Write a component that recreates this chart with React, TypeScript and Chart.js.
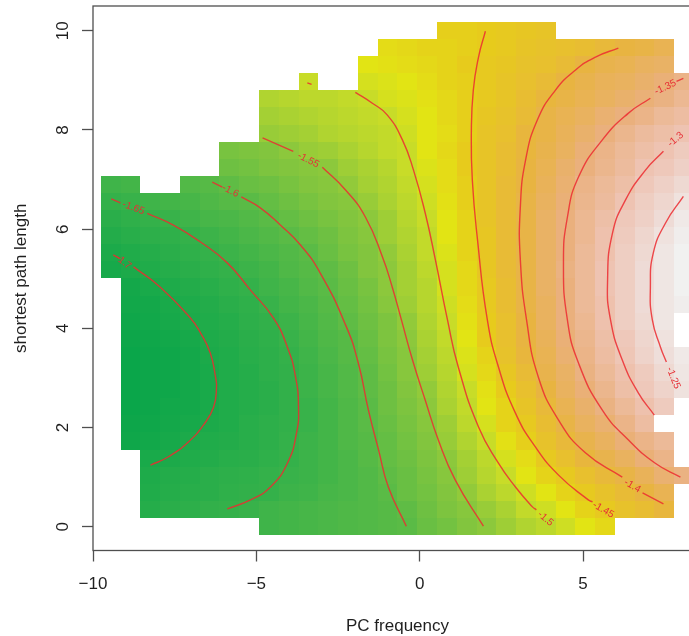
import React, { useEffect, useRef } from "react";
import { Chart, registerables } from "chart.js";

Chart.register(...registerables);

const N = null;

const xCenters = [-9.46, -8.855, -8.25, -7.645, -7.04, -6.43, -5.83, -5.22, -4.62, -4.01, -3.41, -2.8, -2.2, -1.59, -0.99, -0.38, 0.23, 0.83, 1.44, 2.04, 2.65, 3.25, 3.86, 4.46, 5.07, 5.67, 6.28, 6.88, 7.49, 8.1];
const yCenters = [0.0, 0.35, 0.69, 1.04, 1.38, 1.73, 2.07, 2.42, 2.76, 3.11, 3.45, 3.8, 4.14, 4.49, 4.83, 5.18, 5.52, 5.87, 6.21, 6.56, 6.9, 7.25, 7.59, 7.94, 8.28, 8.63, 8.97, 9.32, 9.66, 10.01];
const cellWidth = 0.6054;
const cellHeight = 0.3448;

// one list per row, bottom row first, one entry per column
const row00 = [N, N, N, N, N, N, N, N, -1.635, -1.63, -1.625, -1.62, -1.615, -1.61, -1.605, -1.6, -1.587, -1.573, -1.56, -1.548, -1.535, -1.52, -1.51, -1.495, -1.48, -1.465, N, N, N, N];
const row01 = [N, N, -1.68, -1.672, -1.665, -1.657, -1.649, -1.643, -1.637, -1.63, -1.625, -1.62, -1.614, -1.608, -1.603, -1.593, -1.58, -1.566, -1.554, -1.538, -1.523, -1.507, -1.493, -1.478, -1.461, -1.447, -1.432, -1.419, -1.405, N];
const row02 = [N, N, -1.69, -1.682, -1.675, -1.668, -1.662, -1.656, -1.648, -1.641, -1.634, -1.626, -1.618, -1.61, -1.601, -1.587, -1.573, -1.559, -1.543, -1.527, -1.511, -1.495, -1.478, -1.461, -1.443, -1.43, -1.417, -1.4, -1.387, N];
const row03 = [N, N, -1.695, -1.687, -1.68, -1.672, -1.665, -1.658, -1.652, -1.645, -1.638, -1.63, -1.622, -1.612, -1.597, -1.583, -1.57, -1.555, -1.537, -1.517, -1.498, -1.48, -1.462, -1.443, -1.427, -1.411, -1.397, -1.378, -1.362, -1.346];
const row04 = [N, N, -1.706, -1.699, -1.691, -1.684, -1.676, -1.668, -1.659, -1.651, -1.639, -1.628, -1.618, -1.607, -1.592, -1.579, -1.565, -1.549, -1.528, -1.508, -1.488, -1.468, -1.447, -1.427, -1.407, -1.389, -1.373, -1.354, -1.34, N];
const row05 = [N, -1.725, -1.718, -1.71, -1.7, -1.692, -1.683, -1.674, -1.664, -1.652, -1.642, -1.63, -1.617, -1.604, -1.589, -1.574, -1.559, -1.541, -1.52, -1.499, -1.477, -1.454, -1.43, -1.41, -1.391, -1.373, -1.354, -1.338, -1.324, N];
const row06 = [N, -1.73, -1.725, -1.717, -1.708, -1.698, -1.688, -1.677, -1.666, -1.654, -1.643, -1.63, -1.615, -1.602, -1.586, -1.57, -1.553, -1.533, -1.511, -1.489, -1.462, -1.445, -1.418, -1.395, -1.377, -1.359, -1.34, -1.317, N, N];
const row07 = [N, -1.733, -1.728, -1.721, -1.713, -1.703, -1.691, -1.68, -1.668, -1.655, -1.643, -1.629, -1.614, -1.6, -1.582, -1.565, -1.55, -1.527, -1.505, -1.481, -1.458, -1.433, -1.408, -1.385, -1.365, -1.347, -1.325, -1.303, -1.285, N];
const row08 = [N, -1.735, -1.73, -1.724, -1.716, -1.704, -1.692, -1.68, -1.668, -1.655, -1.641, -1.627, -1.612, -1.597, -1.58, -1.561, -1.543, -1.52, -1.499, -1.474, -1.45, -1.425, -1.399, -1.377, -1.354, -1.335, -1.312, -1.29, -1.268, -1.245];
const row09 = [N, -1.735, -1.73, -1.725, -1.716, -1.703, -1.692, -1.68, -1.667, -1.653, -1.638, -1.623, -1.61, -1.593, -1.575, -1.556, -1.537, -1.513, -1.492, -1.466, -1.442, -1.415, -1.39, -1.368, -1.345, -1.326, -1.305, -1.283, -1.258, -1.24];
const row10 = [N, -1.733, -1.728, -1.723, -1.713, -1.7, -1.688, -1.676, -1.664, -1.65, -1.636, -1.621, -1.606, -1.589, -1.571, -1.553, -1.53, -1.509, -1.484, -1.458, -1.432, -1.407, -1.383, -1.36, -1.338, -1.316, -1.294, -1.272, -1.248, -1.235];
const row11 = [N, -1.73, -1.725, -1.718, -1.708, -1.695, -1.683, -1.672, -1.659, -1.645, -1.632, -1.617, -1.603, -1.585, -1.567, -1.549, -1.525, -1.505, -1.479, -1.452, -1.426, -1.402, -1.379, -1.355, -1.333, -1.311, -1.288, -1.264, -1.245, N];
const row12 = [N, -1.726, -1.719, -1.711, -1.702, -1.689, -1.678, -1.666, -1.653, -1.639, -1.626, -1.612, -1.597, -1.58, -1.563, -1.543, -1.52, -1.5, -1.475, -1.45, -1.425, -1.4, -1.376, -1.352, -1.33, -1.306, -1.282, -1.258, -1.24, N];
const row13 = [N, -1.72, -1.713, -1.703, -1.695, -1.683, -1.671, -1.658, -1.646, -1.632, -1.619, -1.605, -1.59, -1.573, -1.555, -1.537, -1.517, -1.497, -1.47, -1.447, -1.422, -1.397, -1.373, -1.349, -1.326, -1.304, -1.28, -1.256, -1.24, -1.228];
const row14 = [N, -1.713, -1.704, -1.695, -1.687, -1.676, -1.662, -1.65, -1.637, -1.625, -1.612, -1.599, -1.584, -1.568, -1.552, -1.532, -1.514, -1.492, -1.467, -1.443, -1.418, -1.394, -1.371, -1.348, -1.325, -1.302, -1.279, -1.256, -1.24, -1.226];
const row15 = [-1.708, -1.702, -1.691, -1.681, -1.672, -1.661, -1.652, -1.641, -1.629, -1.617, -1.606, -1.594, -1.578, -1.562, -1.55, -1.53, -1.511, -1.489, -1.464, -1.441, -1.416, -1.393, -1.37, -1.347, -1.324, -1.301, -1.278, -1.255, -1.238, -1.225];
const row16 = [-1.7, -1.69, -1.68, -1.67, -1.661, -1.652, -1.641, -1.631, -1.62, -1.609, -1.599, -1.586, -1.572, -1.559, -1.545, -1.525, -1.507, -1.484, -1.459, -1.438, -1.415, -1.394, -1.372, -1.348, -1.325, -1.304, -1.282, -1.258, -1.24, -1.226];
const row17 = [-1.685, -1.675, -1.666, -1.658, -1.65, -1.64, -1.631, -1.621, -1.611, -1.601, -1.59, -1.578, -1.565, -1.553, -1.536, -1.52, -1.503, -1.482, -1.461, -1.438, -1.416, -1.394, -1.371, -1.35, -1.329, -1.307, -1.287, -1.266, -1.246, -1.232];
const row18 = [-1.668, -1.659, -1.652, -1.644, -1.635, -1.627, -1.618, -1.61, -1.601, -1.591, -1.581, -1.57, -1.56, -1.549, -1.533, -1.517, -1.5, -1.479, -1.458, -1.437, -1.415, -1.393, -1.372, -1.351, -1.331, -1.312, -1.292, -1.273, -1.253, -1.237];
const row19 = [-1.652, -1.645, -1.637, -1.63, -1.623, -1.615, -1.607, -1.6, -1.59, -1.581, -1.572, -1.562, -1.553, -1.54, -1.525, -1.511, -1.495, -1.476, -1.457, -1.437, -1.416, -1.396, -1.376, -1.355, -1.336, -1.318, -1.299, -1.282, -1.264, -1.247];
const row20 = [-1.637, -1.63, N, N, -1.61, -1.603, -1.594, -1.586, -1.578, -1.57, -1.562, -1.555, -1.544, -1.531, -1.518, -1.506, -1.49, -1.472, -1.455, -1.436, -1.417, -1.398, -1.379, -1.36, -1.342, -1.326, -1.308, -1.292, -1.277, -1.262];
const row21 = [N, N, N, N, N, N, -1.581, -1.574, -1.566, -1.56, -1.555, -1.548, -1.535, -1.524, -1.513, -1.502, -1.484, -1.468, -1.452, -1.436, -1.419, -1.401, -1.384, -1.366, -1.35, -1.334, -1.318, -1.302, -1.289, -1.275];
const row22 = [N, N, N, N, N, N, -1.571, -1.567, -1.56, -1.55, -1.541, -1.533, -1.525, -1.516, -1.507, -1.5, -1.482, -1.467, -1.452, -1.437, -1.422, -1.405, -1.39, -1.373, -1.357, -1.341, -1.327, -1.312, -1.298, -1.285];
const row23 = [N, N, N, N, N, N, N, N, -1.541, -1.535, -1.528, -1.521, -1.515, -1.51, -1.504, -1.493, -1.482, -1.469, -1.454, -1.437, -1.423, -1.407, -1.393, -1.378, -1.365, -1.348, -1.335, -1.322, -1.31, -1.298];
const row24 = [N, N, N, N, N, N, N, N, -1.53, -1.524, -1.518, -1.513, -1.508, -1.504, -1.5, -1.489, -1.479, -1.466, -1.454, -1.44, -1.428, -1.414, -1.397, -1.385, -1.373, -1.361, -1.35, -1.339, -1.327, -1.316];
const row25 = [N, N, N, N, N, N, N, N, -1.52, -1.516, -1.512, -1.509, -1.505, -1.499, -1.492, -1.484, -1.476, -1.464, -1.454, -1.443, -1.433, -1.421, -1.404, -1.393, -1.384, -1.375, -1.365, -1.353, -1.343, -1.332];
const row26 = [N, N, N, N, N, N, N, N, N, N, -1.5, N, N, -1.488, -1.483, -1.478, -1.47, -1.462, -1.453, -1.445, -1.436, -1.427, -1.415, -1.398, -1.39, -1.382, -1.373, -1.365, -1.354, -1.341];
const row27 = [N, N, N, N, N, N, N, N, N, N, N, N, N, -1.482, -1.476, -1.471, -1.466, -1.458, -1.452, -1.447, -1.44, -1.432, -1.425, -1.417, -1.399, -1.391, -1.384, -1.376, -1.369, N];
const row28 = [N, N, N, N, N, N, N, N, N, N, N, N, N, N, -1.469, -1.466, -1.462, -1.458, -1.453, -1.448, -1.443, -1.437, -1.431, -1.425, -1.418, -1.408, -1.399, -1.393, -1.386, N];
const row29 = [N, N, N, N, N, N, N, N, N, N, N, N, N, N, N, N, N, -1.457, -1.453, -1.45, -1.445, -1.44, -1.436, N, N, N, N, N, N, N];
const zRows = [row00, row01, row02, row03, row04, row05, row06, row07, row08, row09, row10, row11, row12, row13, row14, row15, row16, row17, row18, row19, row20, row21, row22, row23, row24, row25, row26, row27, row28, row29];

// contour traces: [x, y] pairs, a null marks a break for the label
const level170 = [[-9.38, 5.48], [-9.16, 5.4], N, [-8.76, 5.24], [-7.94, 4.83], [-7.02, 4.21], [-6.71, 3.91], [-6.41, 3.5], [-6.25, 3.02], [-6.22, 2.8], [-6.31, 2.41], [-6.62, 2.05], [-7.08, 1.71], [-7.69, 1.41], [-8.24, 1.24]];
const level165 = [[-9.44, 6.61], [-9.16, 6.53], N, [-8.34, 6.32], [-7.54, 6.08], [-6.71, 5.74], [-5.89, 5.32], [-5.18, 4.77], [-4.48, 4.21], [-4.05, 3.62], [-3.8, 3.02], [-3.71, 2.41], [-3.77, 1.89], [-4.05, 1.28], [-4.57, 0.8], [-5.18, 0.54], [-5.89, 0.36]];
const level160 = [[-6.35, 6.95], [-6.04, 6.85], N, [-5.46, 6.65], [-4.88, 6.43], [-4.26, 6.08], [-3.65, 5.68], [-3.04, 5.11], [-2.27, 4.07], [-1.88, 3.3], [-1.57, 2.35], [-1.26, 1.55], [-0.96, 0.8], [-0.41, 0.01]];
const level155 = [[-4.81, 7.84], [-3.87, 7.57], N, [-2.98, 7.25], [-2.27, 6.79], [-1.66, 6.24], [-1.14, 5.44], [-0.84, 4.83], [-0.56, 4.17], [-0.22, 3.36], [0.17, 2.55], [0.57, 1.75], [1.09, 0.94], [1.95, 0.01]];
const level150 = [[-1.97, 8.76], [-1.45, 8.54], [-0.99, 8.3], [-0.53, 7.8], [-0.19, 7.19], [0.17, 6.32], [0.48, 5.38], [0.85, 4.17], [1.18, 3.22], [1.8, 2.01], [2.41, 1.28], [2.93, 0.8], [3.45, 0.4], [3.57, 0.34]];
const level150b = [[-3.44, 8.95], [-3.31, 8.92]];
const level145 = [[2.01, 9.99], [1.8, 9.47], [1.64, 8.8], [1.58, 7.94], [1.61, 6.99], [1.77, 5.78], [2.07, 4.17], [2.41, 3.22], [2.93, 2.29], [3.54, 1.61], [4.25, 1.04], [5.16, 0.54], [5.29, 0.5]];
const level140 = [[6.08, 9.65], [5.38, 9.47], [4.77, 9.21], [4.15, 8.8], [3.6, 8.2], [3.24, 7.39], [3.08, 6.45], [3.08, 5.38], [3.27, 4.17], [3.63, 3.02], [4.25, 2.15], [5.07, 1.49], [6.2, 1.0], N, [6.82, 0.68], [7.46, 0.46]];
const level135 = [[8.07, 9.04], [7.86, 8.98], N, [7.06, 8.64], [6.39, 8.34], [5.59, 7.8], [4.86, 7.05], [4.52, 6.24], [4.4, 5.32], [4.52, 4.17], [4.86, 3.3], [5.59, 2.35], [6.39, 1.75], [7.21, 1.28], [7.98, 1.0]];
const level130 = [[7.46, 7.57], [6.91, 7.19], [6.3, 6.59], [5.9, 5.92], [5.75, 4.97], [5.84, 4.17], [6.2, 3.36], [6.69, 2.7], [7.18, 2.25]];
const level125 = [[8.07, 6.66], [7.52, 6.12], [7.15, 5.52], [7.06, 4.83], [7.12, 4.17], [7.37, 3.62], [7.55, 3.32]];
const contourTraces = [level170, level165, level160, level155, level150, level150b, level145, level140, level135, level130, level125];

const labelTexts = ["-1.7", "-1.65", "-1.6", "-1.55", "-1.5", "-1.45", "-1.4", "-1.35", "-1.3", "-1.25"];
const labelX = [-9.07, -8.76, -5.79, -3.41, 3.85, 5.62, 6.51, 7.52, 7.83, 7.76];
const labelY = [5.34, 6.43, 6.77, 7.39, 0.16, 0.34, 0.82, 8.86, 7.81, 3.0];
const labelAngle = [38, 20, 27, 27, 40, 30, 30, -25, -40, 68];

const xTickValues = [-10, -5, 0, 5];
const yTickValues = [0, 2, 4, 6, 8, 10];

const paletteZ = [-1.74, -1.65, -1.6, -1.55, -1.5, -1.48, -1.45, -1.4, -1.35, -1.3, -1.25, -1.225];
const paletteRGB = [
  [8, 165, 74], [52, 177, 74], [90, 187, 70], [140, 200, 60], [200, 220, 40], [226, 228, 20],
  [231, 203, 28], [232, 180, 65], [234, 176, 125], [238, 195, 178], [238, 222, 218], [241, 241, 240],
];

function colorFor(z: number): string {
  const q = Math.round(z / 0.005) * 0.005;
  let i = 0;
  while (i < paletteZ.length - 2 && q > paletteZ[i + 1]) i++;
  const t = Math.max(0, Math.min(1, (q - paletteZ[i]) / (paletteZ[i + 1] - paletteZ[i])));
  const a = paletteRGB[i];
  const b = paletteRGB[i + 1];
  return `rgb(${a.map((v, k) => Math.round(v + (b[k] - v) * t)).join(",")})`;
}

const AXIS_COLOR = "#4f4f4f";
const TEXT_COLOR = "#1f1f1f";
const FONT = "'Liberation Sans', Arial, sans-serif";

function edgeAfter(centers: number[], i: number, size: number): number {
  return i + 1 < centers.length ? (centers[i] + centers[i + 1]) / 2 : centers[i] + size / 2;
}
function edgeBefore(centers: number[], i: number, size: number): number {
  return i > 0 ? (centers[i - 1] + centers[i]) / 2 : centers[i] - size / 2;
}

const heatPlugin = {
  id: "heat",
  beforeDatasetsDraw(chart: any) {
    const { ctx, chartArea: a, scales } = chart;
    const meta = chart.getDatasetMeta(0);
    ctx.save();
    ctx.beginPath();
    ctx.rect(a.left, a.top, a.right - a.left, a.bottom - a.top);
    ctx.clip();
    chart.data.datasets[0].data.forEach((d: any, k: number) => {
      if (!meta.data[k]) return;
      const i = xCenters.indexOf(d.x);
      const j = yCenters.indexOf(d.y);
      const l = Math.round(scales.x.getPixelForValue(edgeBefore(xCenters, i, cellWidth)));
      const r = Math.round(scales.x.getPixelForValue(edgeAfter(xCenters, i, cellWidth)));
      const t = Math.round(scales.y.getPixelForValue(edgeAfter(yCenters, j, cellHeight)));
      const b = Math.round(scales.y.getPixelForValue(edgeBefore(yCenters, j, cellHeight)));
      ctx.fillStyle = colorFor(d.z);
      ctx.fillRect(l, t, r - l, b - t);
    });
    ctx.restore();
  },
  afterDatasetsDraw(chart: any) {
    const { ctx, chartArea: a, scales } = chart;
    ctx.save();
    ctx.font = `10px ${FONT}`;
    ctx.fillStyle = "#e62f35";
    ctx.textAlign = "center";
    ctx.textBaseline = "middle";
    labelTexts.forEach((text, i) => {
      ctx.save();
      ctx.translate(scales.x.getPixelForValue(labelX[i]), scales.y.getPixelForValue(labelY[i]));
      ctx.rotate((labelAngle[i] * Math.PI) / 180);
      ctx.fillText(text, 0, 0);
      ctx.restore();
    });
    ctx.strokeStyle = AXIS_COLOR;
    ctx.lineWidth = 1.3;
    ctx.strokeRect(a.left, a.top, a.right - a.left, a.bottom - a.top);
    ctx.restore();
  },
};

const cellData: any[] = [];
zRows.forEach((row, j) => {
  row.forEach((z, i) => {
    if (z !== null) cellData.push({ x: xCenters[i], y: yCenters[j], z });
  });
});

export default function App() {
  const ref = useRef<HTMLCanvasElement>(null);
  useEffect(() => {
    const chart = new Chart(ref.current as HTMLCanvasElement, {
      type: "scatter",
      data: {
        datasets: [
          { label: "cells", data: cellData, pointRadius: 0, showLine: false },
          ...contourTraces.map((trace, i) => ({
            label: `contour ${i}`,
            data: trace.map((p: any) => (p ? { x: p[0], y: p[1] } : { x: NaN, y: NaN })),
            showLine: true,
            spanGaps: false,
            pointRadius: 0,
            borderColor: "rgba(236,44,48,0.85)",
            borderWidth: 1.4,
            tension: 0.5,
          })),
        ],
      },
      options: {
        animation: false,
        responsive: false,
        maintainAspectRatio: false,
        layout: { autoPadding: false, padding: { top: 6, left: 0, right: 0, bottom: 0 } },
        plugins: { legend: { display: false }, tooltip: { enabled: false } },
        scales: {
          x: {
            type: "linear",
            min: -10,
            max: 8.64,
            afterBuildTicks: (s: any) => { s.ticks = xTickValues.map((value) => ({ value })); },
            afterFit: (s: any) => { s.height = 85.5; s.paddingLeft = 0; s.paddingRight = 0; },
            border: { display: false },
            grid: { drawOnChartArea: false, drawTicks: true, tickLength: 11, tickColor: AXIS_COLOR, tickWidth: 1.3 },
            ticks: {
              padding: 13,
              color: TEXT_COLOR,
              maxRotation: 0,
              font: { family: FONT, size: 17 },
              callback: (v: any) => String(v).replace("-", "\u2212"),
            },
            title: {
              display: true,
              text: "PC frequency",
              color: TEXT_COLOR,
              font: { family: FONT, size: 17 },
              padding: { top: 0, bottom: -1 },
            },
          },
          y: {
            type: "linear",
            min: -0.48,
            max: 10.5,
            afterBuildTicks: (s: any) => { s.ticks = yTickValues.map((value) => ({ value })); },
            afterFit: (s: any) => { s.width = 93; s.paddingTop = 0; s.paddingBottom = 0; },
            border: { display: false },
            grid: { drawOnChartArea: false, drawTicks: true, tickLength: 11, tickColor: AXIS_COLOR, tickWidth: 1.3 },
            ticks: {
              padding: 9,
              color: TEXT_COLOR,
              minRotation: 90,
              maxRotation: 90,
              crossAlign: "center",
              font: { family: FONT, size: 17 },
            },
            title: {
              display: true,
              text: "shortest path length",
              color: TEXT_COLOR,
              font: { family: FONT, size: 17 },
              padding: { top: 11, bottom: 0 },
            },
          },
        },
      },
      plugins: [heatPlugin],
    } as any);
    return () => chart.destroy();
  }, []);
  return (
    <div style={{ position: "fixed", left: 0, top: 0, width: 689, height: 636, overflow: "hidden", background: "#fff" }}>
      <canvas ref={ref} width={702} height={636} style={{ display: "block", filter: "blur(0.35px)" }} />
    </div>
  );
}
